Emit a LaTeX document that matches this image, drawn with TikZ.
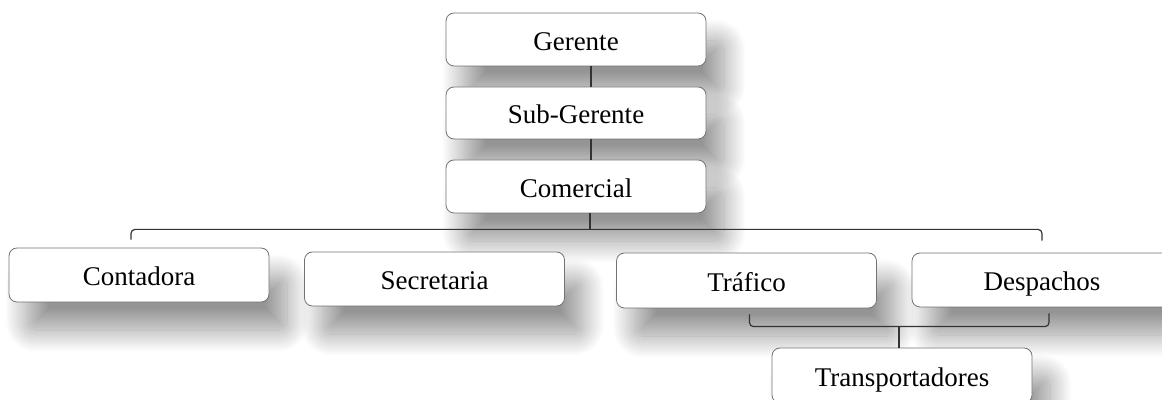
\documentclass[tikz,border=0pt]{standalone}
\usepackage{fontspec}
\setmainfont{Liberation Serif}
\usetikzlibrary{shadows.blur}

\tikzset{
    orgbox/.style={draw=black!55, fill=white, rounded corners=4pt, minimum width=130pt,
        inner sep=0pt, text height=11pt, text depth=0pt, font=\fontsize{13.5}{15}\selectfont,
        blur shadow={shadow xshift=9pt, shadow yshift=-14pt, shadow blur radius=11pt,
            shadow blur steps=30, shadow opacity=42}},
    conn/.style={draw=black!80, line width=0.6pt}
}

\begin{document}
\begin{tikzpicture}[x=0.5pt, y=-0.5pt]
    \useasboundingbox (0,0) rectangle (1162,400);
    \clip (0,0) rectangle (1162,400);

    % top chain
    \node[orgbox, minimum height=26.5pt] (gerente) at (576,39.5) {Gerente};
    \node[orgbox, minimum height=26pt] (subgerente) at (576,113) {Sub-Gerente};
    \node[orgbox, minimum height=26.5pt] (comercial) at (576,186.5) {Comercial};

    % second row
    \node[orgbox, minimum height=27pt] (contadora) at (139,275) {Contadora};
    \node[orgbox, minimum height=27pt] (secretaria) at (434.5,279) {Secretaria};
    \node[orgbox, minimum height=27.5pt] (trafico) at (746.5,280.5) {Tráfico};
    \node[orgbox, minimum height=27pt] (despachos) at (1042,280) {Despachos};

    \node[orgbox, minimum height=27.5pt] (transp) at (902,375.5) {Transportadores};

    \draw[conn] ([xshift=7.5pt]gerente.south) -- ([xshift=7.5pt]subgerente.north);
    \draw[conn] ([xshift=7.5pt]subgerente.south) -- ([xshift=7.5pt]comercial.north);

    % bus under Comercial
    \coordinate (bus) at ([xshift=7pt,yshift=-8pt]comercial.south);
    \draw[conn] ([xshift=7pt]comercial.south) -- (bus);
    \draw[conn, rounded corners=2pt] ([xshift=-4pt,yshift=4pt]contadora.north) |- (bus)
        -| ([yshift=6pt]despachos.north);

    % bracket to Transportadores
    \coordinate (join) at ([xshift=-1.5pt,yshift=10.5pt]transp.north);
    \draw[conn, rounded corners=2pt] ([xshift=1.5pt,yshift=-3pt]trafico.south) |- (join)
        -| ([xshift=3.5pt,yshift=-3pt]despachos.south);
    \draw[conn] (join) -- (transp.north -| join);
\end{tikzpicture}
\end{document}
